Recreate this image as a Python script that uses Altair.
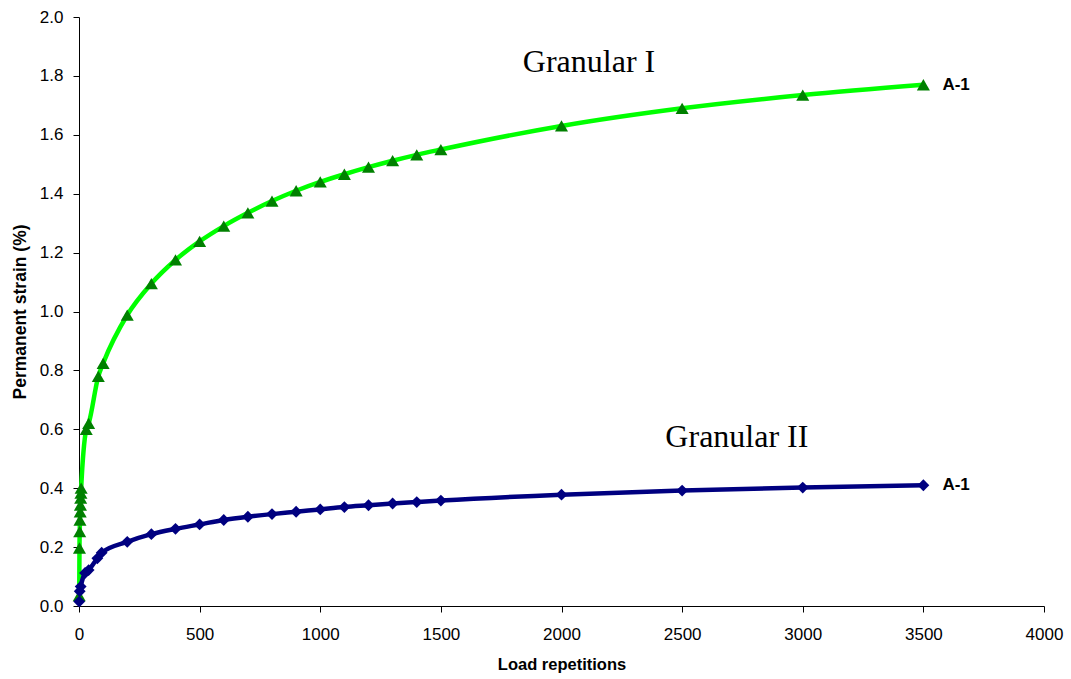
import altair as alt
import pandas as pd

# Granular I (green, triangles)
g1_x = [1, 2, 3, 4, 5, 6, 7, 8, 9, 30, 40, 80, 100, 200, 300, 400, 500, 600, 700, 800,
        900, 1000, 1100, 1200, 1300, 1400, 1500, 2000, 2500, 3000, 3500]
g1_y = [0.035, 0.197, 0.253, 0.292, 0.32, 0.343, 0.366, 0.383, 0.40, 0.60, 0.62, 0.78, 0.824,
        0.988, 1.095, 1.175, 1.238, 1.29, 1.335, 1.375, 1.41, 1.44, 1.466, 1.49, 1.512,
        1.532, 1.55, 1.63, 1.69, 1.735, 1.77]

# Granular II (navy, diamonds)
g2_x = [1, 3, 7, 25, 40, 76, 94, 200, 300, 400, 500, 600, 700, 800, 900, 1000, 1100,
        1200, 1300, 1400, 1500, 2000, 2500, 3000, 3500]
g2_y = [0.015, 0.05, 0.066, 0.112, 0.122, 0.162, 0.181, 0.218, 0.244, 0.262, 0.277, 0.292,
        0.303, 0.312, 0.32, 0.328, 0.336, 0.342, 0.348, 0.353, 0.358, 0.378, 0.392, 0.402, 0.41]

# annotations
ann_text = ["Granular I", "Granular II"]
ann_x = [2114, 2727]
ann_y = [1.847, 0.574]
end_text = ["A-1", "A-1"]
end_x = [3500, 3500]
end_y = [1.77, 0.41]

df1 = pd.DataFrame({"x": g1_x, "y": g1_y})
df2 = pd.DataFrame({"x": g2_x, "y": g2_y})
dfa = pd.DataFrame({"t": ann_text, "x": ann_x, "y": ann_y})
dfe = pd.DataFrame({"t": end_text, "x": end_x, "y": end_y})

xs = alt.Scale(domain=[0, 4000], nice=False, zero=False)
ys = alt.Scale(domain=[0, 2.0], nice=False)

xax = alt.Axis(title="Load repetitions", values=list(range(0, 4001, 500)), format="d", grid=False,
               labelFont="Liberation Sans", labelFontSize=17, labelColor="black",
               titleFont="Liberation Sans", titleFontSize=16.5, titleFontWeight="bold",
               titleColor="black", titlePadding=14, domainColor="black", tickColor="black",
               tickSize=6, labelPadding=14, labelFlush=False)
yax = alt.Axis(title="Permanent strain (%)", values=[i / 10 for i in range(0, 21, 2)],
               format=".1f", grid=False,
               labelFont="Liberation Sans", labelFontSize=17, labelColor="black",
               titleFont="Liberation Sans", titleFontSize=17.5, titleFontWeight="bold",
               titleColor="black", titlePadding=10, domainColor="black", tickColor="black",
               tickSize=6, labelPadding=10, labelFlush=False)

X = alt.X("x:Q", scale=xs, axis=xax)
Y = alt.Y("y:Q", scale=ys, axis=yax)

l1 = alt.Chart(df1).mark_line(color="#00FF00", strokeWidth=4.5, interpolate="monotone").encode(x=X, y=Y)
p1 = alt.Chart(df1).mark_point(shape="triangle-up", filled=True, color="#008000", size=170, opacity=1).encode(x=X, y=Y)
l2 = alt.Chart(df2).mark_line(color="#000080", strokeWidth=4.5, interpolate="monotone").encode(x=X, y=Y)
p2 = alt.Chart(df2).mark_point(shape="diamond", filled=True, color="#000080", size=140, opacity=1).encode(x=X, y=Y)

ta = alt.Chart(dfa).mark_text(font="Liberation Serif", fontSize=32, color="black", align="center",
                              baseline="middle").encode(x=X, y=Y, text="t:N")
te = alt.Chart(dfe).mark_text(font="Liberation Sans", fontSize=17, fontWeight="bold", color="black",
                              align="left", baseline="middle", dx=19).encode(x=X, y=Y, text="t:N")

chart = alt.layer(l1, l2, p1, p2, ta, te).properties(
    width=965, height=589,
    autosize=alt.AutoSizeParams(type="none"),
    padding={"left": 79, "top": 17, "right": 27, "bottom": 73},
    background="white",
).configure_view(stroke=None)

chart.save("out.html", embed_options={"renderer": "svg", "actions": False})
